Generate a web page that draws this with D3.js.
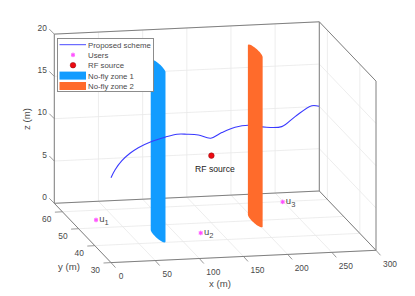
<!DOCTYPE html>
<html>
<head>
<meta charset="utf-8">
<script src="https://cdn.jsdelivr.net/npm/d3@7"></script>
<style>
  html, body { margin: 0; padding: 0; background: #fff; }
  svg { display: block; }
  text { font-family: "Liberation Sans", Arial, sans-serif; fill: #4a4a4a; }
</style>
</head>
<body>
<div id="chart"></div>
<script>
// Axis ticks
const xTicks = [0, 50, 100, 150, 200, 250, 300];
const yTicks = [30, 40, 50, 60];
const zTicks = [0, 5, 10, 15, 20];
const yWallTicks = [40, 60];

// Trajectory (flown at a fixed y)
const trajX = [27.5, 32, 39.6, 49, 58.4, 72.8, 88.7, 102.3, 113.2, 126.4, 140.4, 152.9, 168, 183, 198.9, 220.8, 235.9, 254.8, 263];
const trajZ = [6.9, 7.79, 8.82, 9.68, 10.3, 10.94, 11.39, 11.67, 11.62, 11.47, 11.02, 11.62, 12.18, 12.35, 12.07, 12.0, 13.11, 14.31, 14.2];
const trajY = 45;

// Users on the ground
const userNames = ['1', '2', '3'];
const userX = [28, 128, 249];
const userY = [54.5, 44.4, 59.8];

// RF source
const rfSource = [132, 40, 10];

// No-fly zones: x, y, radius
const zoneNames = ['No-fly zone 1', 'No-fly zone 2'];
const zoneX = [79, 200];
const zoneY = [44, 50];
const zoneR = [4, 4];
const zoneColors = ['#129cff', '#ff6b2b'];

const width = 415;
const height = 296;

const svg = d3.select('#chart')
  .append('svg')
  .attr('width', width)
  .attr('height', height);

// Scales from data to box fractions
const xScale = d3.scaleLinear().domain([0, 300]).range([0, 1]);
const yScale = d3.scaleLinear().domain([30, 65]).range([0, 1]);
const zScale = d3.scaleLinear().domain([0, 20]).range([0, 1]);

// Oblique view of the box
const origin = [111, 262.6];
const xVec = [265, -12.3];
const yVec = [-56.7, -59.3];
const zVec = [0, -169.2];

function project(x, y, z) {
  const a = xScale(x), b = yScale(y), c = zScale(z);
  return [
    origin[0] + a * xVec[0] + b * yVec[0] + c * zVec[0],
    origin[1] + a * xVec[1] + b * yVec[1] + c * zVec[1]
  ];
}

function seg(g, p1, p2, color, w) {
  g.append('line')
    .attr('x1', p1[0]).attr('y1', p1[1])
    .attr('x2', p2[0]).attr('y2', p2[1])
    .attr('stroke', color)
    .attr('stroke-width', w);
}

const xMin = 0, xMax = 300, yMin = 30, yMax = 65, zMin = 0, zMax = 20;

// Grid
const grid = svg.append('g');
const gridColor = '#e8e8e8';
xTicks.forEach(x => {
  seg(grid, project(x, yMin, 0), project(x, yMax, 0), gridColor, 0.8);
  seg(grid, project(x, yMax, 0), project(x, yMax, zMax), gridColor, 0.8);
});
yTicks.forEach(y => {
  seg(grid, project(xMin, y, 0), project(xMax, y, 0), gridColor, 0.8);
});
yWallTicks.forEach(y => {
  seg(grid, project(xMax, y, 0), project(xMax, y, zMax), gridColor, 0.8);
});
zTicks.forEach(z => {
  seg(grid, project(xMin, yMax, z), project(xMax, yMax, z), gridColor, 0.8);
  seg(grid, project(xMax, yMax, z), project(xMax, yMin, z), gridColor, 0.8);
});

// Box edges
const box = svg.append('g');
const edgeColor = '#808080';
[
  [[xMin, yMax, zMin], [xMin, yMax, zMax]],
  [[xMin, yMax, zMax], [xMax, yMax, zMax]],
  [[xMax, yMax, zMin], [xMax, yMax, zMax]],
  [[xMax, yMax, zMax], [xMax, yMin, zMax]],
  [[xMax, yMin, zMin], [xMax, yMin, zMax]],
  [[xMin, yMax, zMin], [xMax, yMax, zMin]],
  [[xMax, yMax, zMin], [xMax, yMin, zMin]],
  [[xMin, yMin, zMin], [xMax, yMin, zMin]],
  [[xMin, yMin, zMin], [xMin, yMax, zMin]]
].forEach(e => seg(box, project(...e[0]), project(...e[1]), edgeColor, 1));

// Ticks and their labels
const axisText = svg.append('g').style('font-size', '8.4px');

xTicks.forEach(x => {
  const p = project(x, yMin, 0);
  seg(box, p, [p[0] + 4.5, p[1] + 5], edgeColor, 0.8);
  axisText.append('text')
    .attr('x', p[0] + Math.min(14, 10 + x * 0.04)).attr('y', p[1] + 16.5)
    .attr('text-anchor', 'middle')
    .text(x);
});

yTicks.forEach(y => {
  const p = project(xMin, y, 0);
  seg(box, p, [p[0] - 7.5, p[1] + 0.4], edgeColor, 0.8);
  axisText.append('text')
    .attr('x', p[0] - 11).attr('y', p[1] + 10)
    .attr('text-anchor', 'end')
    .text(y);
});

zTicks.forEach(z => {
  const p = project(xMin, yMax, z);
  seg(box, p, [p[0] - 5, p[1] - 5], edgeColor, 0.8);
  axisText.append('text')
    .attr('x', p[0] - 7.5).attr('y', p[1] - 3.3)
    .attr('text-anchor', 'end')
    .text(z);
});

// Axis titles
const titles = svg.append('g').style('font-size', '9.6px');
titles.append('text').attr('x', 220).attr('y', 287).attr('text-anchor', 'middle').text('x (m)');
titles.append('text').attr('x', 69).attr('y', 269.5).attr('text-anchor', 'middle').text('y (m)');
titles.append('text')
  .attr('transform', 'translate(30,119) rotate(-90)')
  .attr('text-anchor', 'middle')
  .text('z (m)');

// Cylinder silhouette: hull of the bottom and top rings
function zonePath(i) {
  const pts = [];
  d3.range(0, 360, 6).forEach(deg => {
    const t = deg * Math.PI / 180;
    const cx = zoneX[i] + zoneR[i] * Math.cos(t);
    const cy = zoneY[i] + zoneR[i] * Math.sin(t);
    pts.push(project(cx, cy, zMin));
    pts.push(project(cx, cy, zMax));
  });
  return 'M' + d3.polygonHull(pts).join('L') + 'Z';
}

function drawZone(i) {
  svg.append('path')
    .attr('d', zonePath(i))
    .attr('fill', zoneColors[i]);
}

drawZone(0);

// Trajectory
const trajLine = d3.line()
  .x(i => project(trajX[i], trajY, trajZ[i])[0])
  .y(i => project(trajX[i], trajY, trajZ[i])[1])
  .curve(d3.curveCatmullRom);

svg.append('path')
  .attr('d', trajLine(d3.range(trajX.length)))
  .attr('fill', 'none')
  .attr('stroke', '#3a3aff')
  .attr('stroke-width', 1.1);

drawZone(1);

// User marker
const asterisk = d3.symbol().type(d3.symbolAsterisk).size(14);
function userMark(g, px, py) {
  g.append('circle').attr('cx', px).attr('cy', py).attr('r', 2.2).attr('fill', '#ffb0ff');
  g.append('path')
    .attr('d', asterisk())
    .attr('transform', `translate(${px},${py})`)
    .attr('fill', 'none')
    .attr('stroke', '#ff40ff')
    .attr('stroke-width', 0.8);
}

const users = svg.append('g');
userX.forEach((x, i) => {
  const p = project(x, userY[i], 0);
  userMark(users, p[0], p[1]);
  const label = users.append('text')
    .attr('x', p[0] + 3.2)
    .attr('y', p[1] + 1.8)
    .style('font-size', '9.5px');
  label.append('tspan').text('u');
  label.append('tspan').attr('dy', 3).style('font-size', '7.5px').text(userNames[i]);
});

// RF source
const rf = project(...rfSource);
svg.append('circle')
  .attr('cx', rf[0]).attr('cy', rf[1]).attr('r', 2.8)
  .attr('fill', '#ee0a12')
  .attr('stroke', '#8a1010')
  .attr('stroke-width', 0.5);
svg.append('text')
  .attr('x', rf[0] + 3.5).attr('y', rf[1] + 16.5)
  .attr('text-anchor', 'middle')
  .style('font-size', '8.6px')
  .style('fill', '#222')
  .text('RF source');

// Legend
const legendRows = ['Proposed scheme', 'Users', 'RF source', zoneNames[0], zoneNames[1]];
const legendY = [44.7, 54.9, 65.2, 75.6, 86];
const legend = svg.append('g');
legend.append('rect')
  .attr('x', 57.5).attr('y', 38.5)
  .attr('width', 96).attr('height', 53)
  .attr('fill', '#fff')
  .attr('stroke', '#808080')
  .attr('stroke-width', 0.9);
seg(legend, [59.5, legendY[0]], [86, legendY[0]], '#4a4aff', 1);
userMark(legend, 73, legendY[1]);
legend.append('circle').attr('cx', 73).attr('cy', legendY[2]).attr('r', 2.8)
  .attr('fill', '#ee0a12').attr('stroke', '#8a1010').attr('stroke-width', 0.5);
zoneColors.forEach((c, i) => {
  legend.append('rect')
    .attr('x', 59.5).attr('y', legendY[i + 3] - 4)
    .attr('width', 26.5).attr('height', 8)
    .attr('fill', c);
});
legendRows.forEach((t, i) => {
  legend.append('text')
    .attr('x', 88).attr('y', legendY[i] + 3)
    .style('font-size', '7.8px')
    .text(t);
});
</script>
</body>
</html>
